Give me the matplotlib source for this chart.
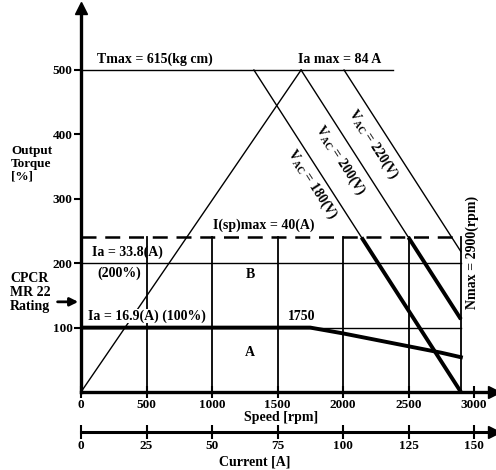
import matplotlib
matplotlib.use('Agg')
import matplotlib.pyplot as plt
import numpy as np

plt.rcParams['font.family'] = ['Liberation Serif', 'DejaVu Serif']
plt.rcParams['font.weight'] = 'bold'
plt.rcParams['mathtext.fontset'] = 'custom'
plt.rcParams['mathtext.rm'] = 'Liberation Serif:bold'
plt.rcParams['mathtext.bf'] = 'Liberation Serif:bold'
plt.rcParams['mathtext.it'] = 'Liberation Serif:bold'

# ---------------- data ----------------
speed_ticks = [0, 500, 1000, 1500, 2000, 2500, 3000]
torque_ticks = [100, 200, 300, 400, 500]
current_ticks = [0, 25, 50, 75, 100, 125, 150]

tmax_speed = [0, 2380]
tmax_torque = [500, 500]
iamax_speed = [0, 1680]
iamax_torque = [0, 500]
v180_speed = [1320, 2900]
v180_torque = [500, 0]
v200_speed = [1680, 2900]
v200_torque = [500, 113]
v220_speed = [2008, 2900]
v220_torque = [500, 218]
rated_speed = [0, 1750, 2000, 2250, 2500, 2750, 2900]
rated_torque = [100, 100, 91, 81, 71, 61, 54]
isp_torque = 240
b_torque = 200
a_torque = 100
nmax = 2900
grid_speeds = [500, 1000, 1500, 2000, 2500, 2900]

W, H = 496, 470
fig = plt.figure(figsize=(W / 100, H / 100), dpi=100)

PX_X = 0.131   # px per rpm
PX_Y = 0.644   # px per %
x0, y0 = 81, 392
xr, yt = 494, 8
ax = fig.add_axes([x0 / W, (H - y0) / H, (xr - x0) / W, (y0 - yt) / H])
ax.set_xlim(0, (xr - x0) / PX_X)
ax.set_ylim(0, (y0 - yt) / PX_Y)
ax.patch.set_alpha(0)

thin = 1.0
thick = 2.8

# horizontal lines
ax.plot(tmax_speed, tmax_torque, color='k', lw=thin)
ax.plot([0, nmax], [isp_torque, isp_torque], color='k', lw=1.8, dashes=(6, 3.5))
ax.plot([0, nmax], [b_torque, b_torque], color='k', lw=thin)
ax.plot([0, nmax], [a_torque, a_torque], color='k', lw=thin)
# vertical grid lines
for s in grid_speeds:
    ax.plot([s, s], [0, isp_torque], color='k', lw=1.3)
# Ia max line
ax.plot(iamax_speed, iamax_torque, color='k', lw=thin)
# voltage lines (thin full, thick below Isp max)
for sp, tq, thick_part in [(v180_speed, v180_torque, True),
                           (v200_speed, v200_torque, True),
                           (v220_speed, v220_torque, False)]:
    ax.plot(sp, tq, color='k', lw=thin)
    if thick_part:
        s_cross = np.interp(isp_torque, tq[::-1], sp[::-1])
        ax.plot([s_cross, sp[1]], [isp_torque, tq[1]], color='k', lw=thick,
                solid_capstyle='butt')
# rated torque curve
ax.plot(rated_speed, rated_torque, color='k', lw=thick)

# spines & ticks
for sp_name in ['top', 'right']:
    ax.spines[sp_name].set_visible(False)
ax.spines['left'].set_linewidth(2.4)
ax.spines['bottom'].set_linewidth(2.4)
ax.set_xticks(speed_ticks)
ax.set_xticklabels([str(v) for v in speed_ticks], fontsize=9.5, fontweight='bold')
ax.set_yticks(torque_ticks)
ax.set_yticklabels([str(v) for v in torque_ticks], fontsize=9.5, fontweight='bold')
ax.tick_params(axis='x', direction='inout', length=8, width=1.5, pad=1)
ax.tick_params(axis='y', direction='out', length=5, width=1.5, pad=1)
ax.plot(0, 1, marker='^', ms=9, color='k', transform=ax.transAxes, clip_on=False)
ax.plot(1, 0, marker='>', ms=8, color='k', transform=ax.transAxes, clip_on=False)

# text labels
fs = 10
ax.text(122, 506, 'Tmax = 615(kg cm)', fontsize=fs, ha='left', va='bottom')
ax.text(1656, 506, 'Ia max = 84 A', fontsize=fs, ha='left', va='bottom')
ax.text(1008, 248, 'I(sp)max = 40(A)', fontsize=fs, ha='left', va='bottom')
ax.text(84, 217, 'Ia = 33.8(A)', fontsize=fs, ha='left', va='center')
ax.text(122, 185, '(200%)', fontsize=fs, ha='left', va='center')
ax.text(1290, 182, 'B', fontsize=fs, ha='center', va='center')
ax.text(53, 118, 'Ia = 16.9(A) (100%)', fontsize=fs, ha='left', va='center',
        bbox=dict(facecolor='white', edgecolor='none', pad=0))
ax.text(1687, 118, '1750', fontsize=fs, ha='center', va='center')
ax.text(1290, 62, 'A', fontsize=fs, ha='center', va='center')
ang = -np.degrees(np.arctan(0.316 * PX_Y / PX_X))
ax.text(1765, 322, r'V$_{\mathrm{AC}}$ = 180(V)', fontsize=fs, rotation=ang,
        ha='center', va='center', rotation_mode='anchor')
ax.text(1980, 360, r'V$_{\mathrm{AC}}$ = 200(V)', fontsize=fs, rotation=ang,
        ha='center', va='center', rotation_mode='anchor')
ax.text(2232, 385, r'V$_{\mathrm{AC}}$ = 220(V)', fontsize=fs, rotation=ang,
        ha='center', va='center', rotation_mode='anchor')
ax.text(2985, 217, 'Nmax = 2900(rpm)', fontsize=fs, rotation=90,
        ha='center', va='center')

fig.text(11 / W, 1 - 145 / H, 'Output\nTorque\n[%]', fontsize=9.5, ha='left',
         va='top', linespacing=1.1)
fig.text(10 / W, 1 - 272 / H, 'CPCR\nMR 22\nRating', fontsize=10, ha='left',
         va='top', linespacing=1.1)
ax.annotate('', xy=(0, 140), xytext=(-200, 140),
            arrowprops=dict(arrowstyle='-|>', color='k', lw=2, mutation_scale=12),
            annotation_clip=False)
fig.text(281 / W, 1 - 418 / H, 'Speed [rpm]', fontsize=fs, ha='center', va='center')
fig.text(255 / W, 1 - 462 / H, 'Current [A]', fontsize=fs, ha='center', va='center')

# current axis
y_c = 432
ax2 = fig.add_axes([x0 / W, (H - y_c) / H, (xr - x0) / W, 0.001])
ax2.set_xlim(0, (xr - x0) / PX_X / 20)
for sp_name in ['top', 'right', 'left']:
    ax2.spines[sp_name].set_visible(False)
ax2.spines['bottom'].set_linewidth(2.2)
ax2.set_yticks([])
ax2.set_xticks(current_ticks)
ax2.set_xticklabels([str(v) for v in current_ticks], fontsize=9.5, fontweight='bold')
ax2.tick_params(axis='x', direction='inout', length=10, width=1.5, pad=1)
ax2.patch.set_alpha(0)
ax2.plot(1, 0, marker='>', ms=8, color='k', transform=ax2.transAxes, clip_on=False)

fig.savefig('out.png', dpi=100)
